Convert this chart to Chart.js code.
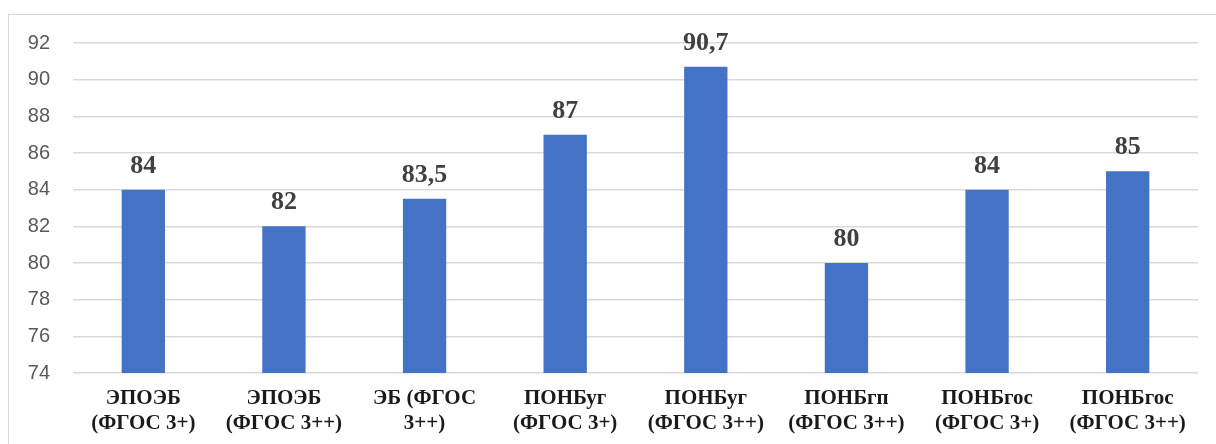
<!DOCTYPE html>
<html>
<head>
<meta charset="utf-8">
<script src="https://cdn.jsdelivr.net/npm/chart.js@4.4.1/dist/chart.umd.min.js"></script>
<style>
  html, body { margin: 0; padding: 0; background: #ffffff; }
  body { width: 1216px; height: 444px; position: relative; overflow: hidden; }
  #frame { position: absolute; left: 8px; top: 14px; width: 1300px; height: 500px;
           border-left: 1.5px solid #d9d9d9; border-top: 1.5px solid #d9d9d9; box-sizing: border-box; }
  canvas { position: absolute; left: 0; top: 0; }
</style>
</head>
<body>
<div id="frame"></div>
<canvas id="c" width="1216" height="444"></canvas>
<script>
const categories = [
  ["ЭПОЭБ", "(ФГОС 3+)"],
  ["ЭПОЭБ", "(ФГОС 3++)"],
  ["ЭБ (ФГОС", "3++)"],
  ["ПОНБуг", "(ФГОС 3+)"],
  ["ПОНБуг", "(ФГОС 3++)"],
  ["ПОНБгп", "(ФГОС 3++)"],
  ["ПОНБгос", "(ФГОС 3+)"],
  ["ПОНБгос", "(ФГОС 3++)"]
];
const values = [84, 82, 83.5, 87, 90.7, 80, 84, 85];
const yTicks = [74, 76, 78, 80, 82, 84, 86, 88, 90, 92];

const valueLabels = {
  id: 'valueLabels',
  afterDatasetsDraw(chart) {
    const ctx = chart.ctx;
    const meta = chart.getDatasetMeta(0);
    ctx.save();
    ctx.font = 'bold 26px "Liberation Serif", "Times New Roman", serif';
    ctx.fillStyle = '#404040';
    ctx.textAlign = 'center';
    ctx.textBaseline = 'alphabetic';
    meta.data.forEach((bar, i) => {
      const txt = String(values[i]).replace('.', ',');
      ctx.fillText(txt, bar.x, bar.y - 17);
    });
    ctx.restore();
  }
};

new Chart(document.getElementById('c'), {
  type: 'bar',
  data: {
    labels: categories,
    datasets: [{
      data: values,
      backgroundColor: '#4472C4',
      borderWidth: 0,
      barPercentage: 0.308,
      categoryPercentage: 1.0
    }]
  },
  options: {
    responsive: false,
    animation: false,
    devicePixelRatio: 1,
    layout: { padding: { left: 0, top: 43, right: 18, bottom: 0 } },
    plugins: { legend: { display: false }, tooltip: { enabled: false } },
    scales: {
      x: {
        grid: { display: false, drawTicks: false },
        border: { display: false },
        ticks: {
          color: '#1a1a1a',
          padding: 13,
          maxRotation: 0,
          autoSkip: false,
          font: { family: '"Liberation Serif", "Times New Roman", serif', size: 21, weight: 'bold', lineHeight: 1.2 }
        },
        afterFit(scale) { scale.height = 71; }
      },
      y: {
        min: 74,
        max: 92,
        afterBuildTicks(scale) { scale.ticks = yTicks.map(v => ({ value: v })); },
        grid: { color: '#d9d9d9', lineWidth: 1.5, drawTicks: false },
        border: { display: false },
        ticks: {
          color: '#595959',
          padding: 23,
          font: { family: '"Liberation Sans", Arial, sans-serif', size: 20 }
        },
        afterFit(scale) { scale.width = 73; }
      }
    }
  },
  plugins: [valueLabels]
});
</script>
</body>
</html>
